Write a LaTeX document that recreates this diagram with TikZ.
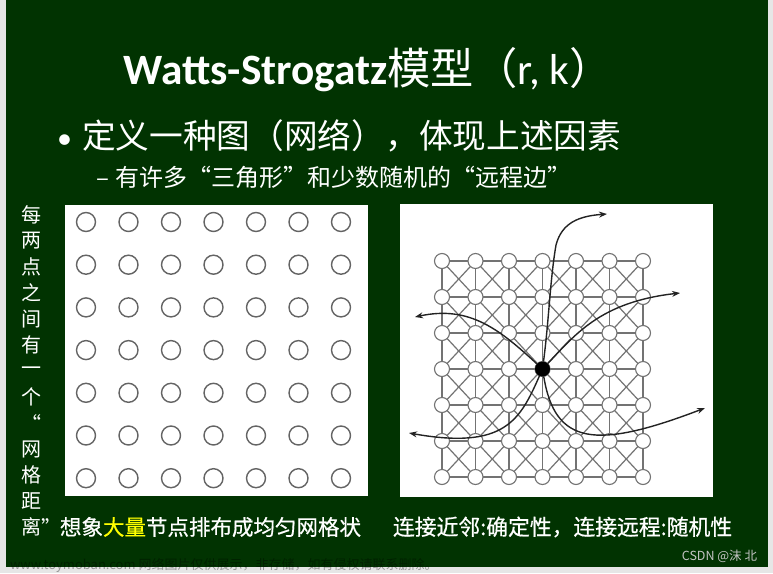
\documentclass[tikz,border=0pt]{standalone}
\usepackage{fontspec}
\setmainfont{Carlito}
\newfontfamily\cjk{Noto Sans CJK SC}
\newfontfamily\cjkheavy[FakeBold=0.6]{Noto Sans CJK SC}
\usetikzlibrary{positioning,arrows.meta}

\definecolor{slidegreen}{RGB}{1,51,1}
\definecolor{slidegrey}{RGB}{230,230,230}
\definecolor{dotgrey}{RGB}{100,100,100}
\definecolor{latticegrey}{RGB}{115,115,115}
\definecolor{curvedark}{RGB}{35,35,35}
\definecolor{highlight}{RGB}{255,255,0}

\begin{document}
\begin{tikzpicture}[x=1pt, y=-1pt,
	every node/.style={inner sep=0pt, outer sep=0pt},
	slidetext/.style={text=white, font=\cjk},
	dot/.style={circle, draw=dotgrey, line width=1.4pt, minimum size=19pt},
	site/.style={circle, draw=latticegrey, fill=white, line width=1.1pt, minimum size=15pt},
	hub/.style={circle, fill=black, minimum size=15pt},
	bond/.style={draw=latticegrey, line width=1.2pt},
	shortcut/.style={draw=curvedark, line width=1.4pt, -{Stealth[length=8pt,width=6pt]}},
	]

% slide background
\fill[slidegrey] (0,0) rectangle (773,573);
\fill[slidegreen] (6,0) rectangle (768,567);
\useasboundingbox (0,0) rectangle (773,573);

\node[slidetext, font=\fontsize{43.3}{46}\selectfont] (title) at (368,70)
    {\textbf{Watts-Strogatz}{\cjk 模型（}r, k{\cjk ）}};
\node[slidetext, anchor=west, font=\cjk\fontsize{33.7}{38}\selectfont] (aim) at (82,136)
    {定义一种图（网络），体现上述因素};
\node[slidetext, font=\fontsize{30}{34}\selectfont, anchor=base east] (bullet)
    at ([xshift=-10pt]aim.base west) {•};
\node[slidetext, anchor=west, font=\cjk\fontsize{24}{28}\selectfont] (detail) at (115,177)
    {有许多“三角形”和少数随机的“远程边”};
\node[slidetext, font=\cjk\fontsize{24}{28}\selectfont, anchor=base east] (dash)
    at ([xshift=-6pt]detail.base west) {–};

% vertical note on the left
\foreach \ch [count=\k] in {每,两,点,之,间,有,一,个,“,网,格,距,离}
    \node[slidetext, font=\cjk\fontsize{20}{22}\selectfont] (col-\k) at (31,{215+26*(\k-1)}) {\ch};
\node[slidetext, anchor=west, font=\cjk\fontsize{20}{22}\selectfont] (closequote) at (col-13.east) {”};

% the two panels
\fill[white] (65,205) rectangle (368,496);
\fill[white] (400,204) rectangle (713,497);

% regular grid, no edges
\foreach \i in {1,...,7}
    \foreach \j in {1,...,7}
        \node[dot] (l-\i-\j) at ({86+42.5*(\i-1)},{222+42.7*(\j-1)}) {};

% lattice with near neighbours
\foreach \i in {1,...,7}
    \foreach \j in {1,...,7}
        \node[site] (r-\i-\j) at ({442+33.5*(\i-1)},{261+36*(\j-1)}) {};
\foreach \i/\ii in {1/2,2/3,3/4,4/5,5/6,6/7}
    \foreach \j in {1,...,7}{
        \path[bond] (r-\i-\j) -- (r-\ii-\j);
        \path[bond] (r-\j-\i) -- (r-\j-\ii);
    }
\foreach \i/\ii in {1/2,2/3,3/4,4/5,5/6,6/7}
    \foreach \j/\jj in {1/2,2/3,3/4,4/5,5/6,6/7}{
        \path[bond] (r-\i-\j) -- (r-\ii-\jj);
        \path[bond] (r-\ii-\j) -- (r-\i-\jj);
    }

% random long range edges
\node[hub] (hubnode) at (r-4-4) {};
\coordinate (farN) at (607,214);
\coordinate (farNE) at (680,293);
\coordinate (farNW) at (415,317);
\coordinate (farSW) at (409,433);
\coordinate (farSE) at (705,408);
\path[shortcut] (hubnode) .. controls (549,320) and (550,280) .. (556,245)
    .. controls (562,222) and (580,216) .. (farN);
\path[shortcut] (hubnode) .. controls (575,335) and (600,302) .. (farNE);
\path[shortcut] (hubnode) .. controls (500,330) and (470,305) .. (farNW);
\path[shortcut] (hubnode) .. controls (520,420) and (505,450) .. (farSW);
\path[shortcut] (hubnode) .. controls (555,445) and (595,450) .. (farSE);

% captions
\node[slidetext, anchor=west, font=\cjkheavy\fontsize{21.5}{24}\selectfont] (leftcap) at (60,527)
    {想象{\color{highlight}大量}节点排布成均匀网格状};
\node[slidetext, anchor=west, font=\cjkheavy\fontsize{21.8}{24}\selectfont] (rightcap) at (393,527)
    {连接近邻:确定性，连接远程:随机性};

\node[anchor=east, text=slidegrey!85!black, font=\cjk\fontsize{12.5}{14}\selectfont] (credit) at (757,556)
    {CSDN @沫 北};
\node[anchor=west, text=black, opacity=0.35, font=\cjk\fontsize{13}{15}\selectfont] (watermark) at (10,565)
    {www.toymoban.com 网络图片仅供展示，非存储，如有侵权请联系删除。};
\end{tikzpicture}
\end{document}
